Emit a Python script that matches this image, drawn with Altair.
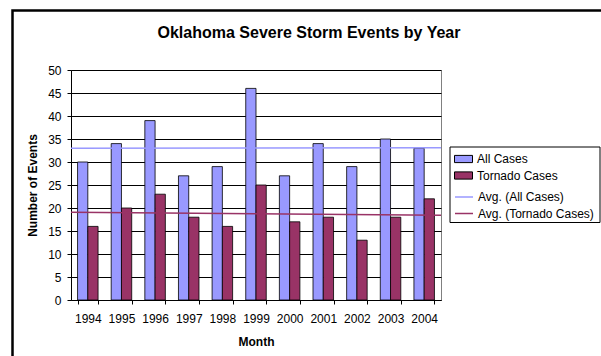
import altair as alt
import pandas as pd

years = ["1994", "1995", "1996", "1997", "1998", "1999", "2000", "2001", "2002", "2003", "2004"]
all_cases = [30, 34, 39, 27, 29, 46, 27, 34, 29, 35, 33]
tornado_cases = [16, 20, 23, 18, 16, 25, 17, 18, 13, 18, 22]
series_names = ["All Cases", "Tornado Cases"]
series_colors = ["#9999FF", "#993366"]
avg_names = ["Avg. (All Cases)", "Avg. (Tornado Cases)"]
avg_colors = ["#9999FF", "#993366"]
avg_start = [33.0, 19.1]
avg_end = [33.1, 18.4]
y_ticks = [0, 5, 10, 15, 20, 25, 30, 35, 40, 45, 50]

FONT = "Liberation Sans"
W, H = 370, 230
PL, PT = 71, 70

bars_df = pd.DataFrame({
    "Year": years * 2,
    "Series": [series_names[0]] * len(years) + [series_names[1]] * len(years),
    "Events": all_cases + tornado_cases,
})
avg_df = pd.DataFrame({"Name": avg_names, "Start": avg_start, "End": avg_end})
one = pd.DataFrame({"a": [0]})

yscale = alt.Scale(domain=[0, 50], nice=False)
yaxis = alt.Axis(title="Number of Events", values=y_ticks, tickSize=4,
                 labelPadding=6, titlePadding=8, labelFontSize=12,
                 titleFontSize=12, titleFontWeight="bold",
                 grid=True, gridColor="#000000", gridWidth=1)

bars = alt.Chart(bars_df).mark_bar(stroke="black", strokeWidth=0.8).encode(
    x=alt.X("Year:N", sort=years,
            scale=alt.Scale(paddingInner=0.39, paddingOuter=0.195),
            axis=alt.Axis(title="Month", tickBand="extent", labelAngle=0,
                          tickSize=4, labelPadding=9, titlePadding=12,
                          labelFontSize=12, titleFontSize=12, titleFontWeight="bold",
                          grid=False)),
    xOffset=alt.XOffset("Series:N", sort=series_names,
                        scale=alt.Scale(paddingInner=0, paddingOuter=0)),
    y=alt.Y("Events:Q", scale=yscale, axis=yaxis),
    color=alt.Color("Series:N", sort=series_names,
                    scale=alt.Scale(domain=series_names, range=series_colors),
                    legend=alt.Legend(title=None, orient="none", legendX=383, legendY=79.5,
                                      symbolType="M-1,-0.4H1V0.4H-1Z", symbolSize=324,
                                      symbolStrokeColor="black", symbolStrokeWidth=1,
                                      labelFontSize=12, labelOffset=4, padding=0,
                                      rowPadding=0.5)),
)

lines = alt.Chart(avg_df).mark_rule(strokeWidth=1.5).encode(
    x=alt.value(0),
    x2=alt.value(W),
    y=alt.Y("Start:Q", scale=yscale, axis=yaxis),
    y2="End:Q",
    stroke=alt.Stroke("Name:N", sort=avg_names,
                      scale=alt.Scale(domain=avg_names, range=avg_colors),
                      legend=alt.Legend(title=None, orient="none", legendX=383, legendY=117,
                                        symbolType="stroke", symbolSize=324,
                                        symbolStrokeWidth=1.5,
                                        labelFontSize=12, labelOffset=4, padding=0,
                                        rowPadding=0.5)),
)

legend_box = alt.Chart(one).mark_rect(filled=False, stroke="black", strokeWidth=1).encode(
    x=alt.value(450 - PL), x2=alt.value(600 - PL),
    y=alt.value(147 - PT), y2=alt.value(222.5 - PT),
)

outer_box = alt.Chart(one).mark_rect(filled=False, stroke="black", strokeWidth=2.5).encode(
    x=alt.value(12.5 - PL), x2=alt.value(601 - PL + 20),
    y=alt.value(10.5 - PT), y2=alt.value(356 - PT + 20),
)

chart = alt.layer(bars, lines, legend_box, outer_box).properties(
    width=W, height=H,
    title=alt.TitleParams("Oklahoma Severe Storm Events by Year", fontSize=16,
                          fontWeight="bold", font=FONT, anchor="middle", frame="group",
                          dx=53, dy=32, offset=0, color="black"),
    autosize=alt.AutoSizeParams(type="none"),
    padding={"left": PL, "top": PT, "right": 601 - PL - W, "bottom": 356 - PT - H},
).configure(
    font=FONT, background="white",
).configure_view(
    stroke="#808080", strokeWidth=1, fill="white",
).configure_axis(
    labelFont=FONT, titleFont=FONT, domainColor="black", tickColor="black",
    labelColor="black", titleColor="black",
).configure_legend(
    labelFont=FONT, labelColor="black",
)

chart.save("out.html", embed_options={"renderer": "svg", "actions": False})
